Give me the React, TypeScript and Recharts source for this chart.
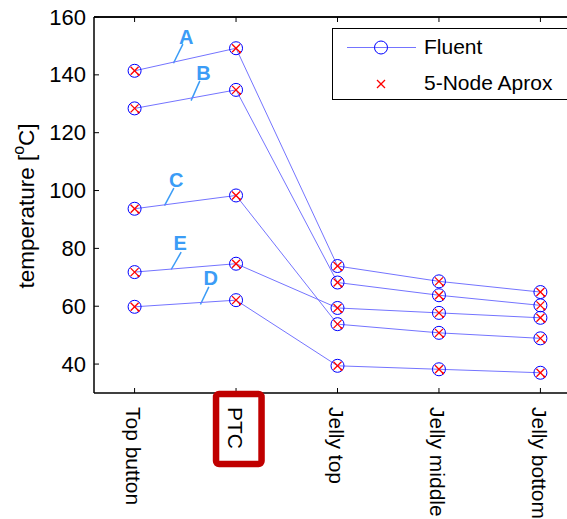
import React from 'react';
import {
  LineChart,
  Line,
  XAxis,
  YAxis,
  ReferenceLine,
  ReferenceDot,
} from 'recharts';

const categories = ['Top button', 'PTC', 'Jelly top', 'Jelly middle', 'Jelly bottom'];
const yTicks = [40, 60, 80, 100, 120, 140, 160];

// Fluent results, one array per curve (A..E)
const fluentA = [141.4, 149.2, 73.9, 68.6, 64.9];
const fluentB = [128.4, 134.8, 68.2, 63.8, 60.3];
const fluentC = [93.7, 98.3, 53.8, 50.8, 48.9];
const fluentD = [59.8, 62.1, 39.4, 38.2, 37.0];
const fluentE = [71.8, 74.7, 59.4, 57.7, 56.0];

// 5-node approximation (sits on top of the Fluent points)
const nodeA = [141.4, 149.2, 73.9, 68.6, 64.9];
const nodeB = [128.4, 134.8, 68.2, 63.8, 60.3];
const nodeC = [93.7, 98.3, 53.8, 50.8, 48.9];
const nodeD = [59.8, 62.1, 39.4, 38.2, 37.0];
const nodeE = [71.8, 74.7, 59.4, 57.7, 56.0];

// curve labels: letter position and leader line, in data units
const curveLabels = [
  { name: 'A', x: 1.51, y: 153.1, x1: 1.476, y1: 150.6, x2: 1.383, y2: 144.0 },
  { name: 'B', x: 1.68, y: 140.8, x1: 1.643, y1: 137.9, x2: 1.557, y2: 131.1 },
  { name: 'C', x: 1.41, y: 103.7, x1: 1.387, y1: 100.8, x2: 1.295, y2: 94.8 },
  { name: 'E', x: 1.45, y: 81.8, x1: 1.459, y1: 78.7, x2: 1.361, y2: 72.7 },
  { name: 'D', x: 1.75, y: 69.9, x1: 1.732, y1: 66.7, x2: 1.649, y2: 60.6 },
];

const data = categories.map((c, i) => ({
  x: i + 1,
  fA: fluentA[i],
  fB: fluentB[i],
  fC: fluentC[i],
  fD: fluentD[i],
  fE: fluentE[i],
  nA: nodeA[i],
  nB: nodeB[i],
  nC: nodeC[i],
  nD: nodeD[i],
  nE: nodeE[i],
}));

const FONT = '"Liberation Sans", Arial, Helvetica, sans-serif';
const LINE_COLOR = '#7474ff';
const LABEL_COLOR = '#3b9cf6';

const CircleDot = (props: any) => {
  const { cx, cy } = props;
  if (cx == null || cy == null) return null;
  return <circle cx={cx} cy={cy} r={6.5} fill="none" stroke="#0000ff" strokeWidth={1} />;
};

const CrossDot = (props: any) => {
  const { cx, cy } = props;
  if (cx == null || cy == null) return null;
  const s = 4;
  return (
    <g stroke="#ff0000" strokeWidth={1.3}>
      <line x1={cx - s} y1={cy - s} x2={cx + s} y2={cy + s} />
      <line x1={cx - s} y1={cy + s} x2={cx + s} y2={cy - s} />
      <rect x={cx + 3} y={cy + 3} width={2} height={2} fill="#ff0000" strokeWidth={0} />
    </g>
  );
};

const YTick = (props: any) => {
  const { x, y, payload } = props;
  const ax = x + 8;
  return (
    <g>
      <line x1={ax} y1={y} x2={ax + 5} y2={y} stroke="#000" strokeWidth={1} />
      <text x={x} y={y} textAnchor="end" dominantBaseline="central" fontSize={22} fontFamily={FONT} fill="#000">
        {payload.value}
      </text>
    </g>
  );
};

const XTick = (props: any) => {
  const { x, y, payload } = props;
  const label = categories[payload.value - 1];
  const tx = x - 1;
  const ty = y + 14;
  return (
    <g>
      <line x1={x} y1={y} x2={x} y2={y - 5} stroke="#000" strokeWidth={1} />
      <text
        x={tx}
        y={ty}
        transform={`rotate(90, ${tx}, ${ty})`}
        textAnchor="start"
        dominantBaseline="central"
        fontSize={21}
        fontFamily={FONT}
        fill="#000"
      >
        {label}
      </text>
      {label === 'PTC' && (
        <rect x={x - 20} y={y + 1} width={45.5} height={70} rx={3} fill="none" stroke="#c00000" strokeWidth={6.5} />
      )}
    </g>
  );
};

const TopTick = (props: any) => {
  const { x, y } = props;
  return <line x1={x} y1={y} x2={x} y2={y + 5} stroke="#000" strokeWidth={1} />;
};

const LegendBox = () => (
  <div
    style={{
      position: 'absolute',
      left: 332,
      top: 28,
      width: 240,
      height: 70,
      border: '1.5px solid #000',
      background: '#fff',
      fontFamily: FONT,
      fontSize: 21,
    }}
  >
    <svg width={90} height={70} style={{ position: 'absolute', left: 0, top: 0 }}>
      <line x1={14} y1={18.5} x2={83} y2={18.5} stroke={LINE_COLOR} strokeWidth={1} />
      <circle cx={48} cy={18.5} r={6.5} fill="none" stroke="#0000ff" strokeWidth={1} />
      <g stroke="#ff0000" strokeWidth={1.3}>
        <line x1={44} y1={51} x2={52} y2={59} />
        <line x1={44} y1={59} x2={52} y2={51} />
      </g>
    </svg>
    <div style={{ position: 'absolute', left: 91, top: 6, lineHeight: '24px' }}>Fluent</div>
    <div style={{ position: 'absolute', left: 91, top: 42, lineHeight: '24px' }}>5-Node Aprox</div>
  </div>
);

const CurveLetter = (name: string) => (props: any) => {
  const { cx, cy } = props;
  return (
    <text
      x={cx}
      y={cy}
      textAnchor="middle"
      dominantBaseline="central"
      fontSize={20}
      fontWeight="bold"
      fontFamily={FONT}
      fill={LABEL_COLOR}
    >
      {name}
    </text>
  );
};

export default function App() {
  return (
    <div
      style={{
        position: 'fixed',
        left: 0,
        top: 0,
        width: 567,
        height: 519,
        overflow: 'hidden',
        background: '#fff',
      }}
    >
      <LineChart width={600} height={519} data={data} margin={{ top: 16, right: 19, bottom: 0, left: 0 }}>
        <XAxis
          dataKey="x"
          type="number"
          domain={[0.6, 5.4]}
          ticks={[1, 2, 3, 4, 5]}
          height={126}
          tickSize={0}
          tickMargin={0}
          tick={<XTick />}
          axisLine={{ stroke: '#000', strokeWidth: 1.5 }}
          allowDataOverflow
        />
        <XAxis
          xAxisId="top"
          orientation="top"
          dataKey="x"
          type="number"
          domain={[0.6, 5.4]}
          ticks={[1, 2, 3, 4, 5]}
          height={1}
          tickSize={0}
          tickMargin={0}
          tick={<TopTick />}
          axisLine={{ stroke: '#000', strokeWidth: 1.5 }}
          allowDataOverflow
        />
        <YAxis
          type="number"
          domain={[30, 160]}
          ticks={yTicks}
          width={94}
          tickSize={0}
          tickMargin={8}
          tick={<YTick />}
          axisLine={{ stroke: '#000', strokeWidth: 1.5 }}
          allowDataOverflow
        />
        <ReferenceLine y={160} stroke="#000" strokeWidth={1.5} />
        <text
          x={34}
          y={206}
          transform="rotate(-90, 34, 206)"
          textAnchor="middle"
          fontSize={22.5}
          fontFamily={FONT}
          fill="#000"
        >
          temperature [<tspan fontSize={16} dy={-10}>o</tspan>
          <tspan dy={10}>C]</tspan>
        </text>
        {curveLabels.map((c) => (
          <ReferenceLine
            key={'l' + c.name}
            segment={[
              { x: c.x1, y: c.y1 },
              { x: c.x2, y: c.y2 },
            ]}
            stroke={LABEL_COLOR}
            strokeWidth={1.5}
          />
        ))}
        {curveLabels.map((c) => (
          <ReferenceDot key={'t' + c.name} x={c.x} y={c.y} r={0} shape={CurveLetter(c.name)} />
        ))}
        {['fA', 'fB', 'fC', 'fD', 'fE'].map((k) => (
          <Line
            key={k}
            dataKey={k}
            stroke={LINE_COLOR}
            strokeWidth={1}
            dot={<CircleDot />}
            activeDot={false}
            isAnimationActive={false}
            legendType="none"
          />
        ))}
        {['nA', 'nB', 'nC', 'nD', 'nE'].map((k) => (
          <Line
            key={k}
            dataKey={k}
            stroke="none"
            dot={<CrossDot />}
            activeDot={false}
            isAnimationActive={false}
            legendType="none"
          />
        ))}
      </LineChart>
      <LegendBox />
    </div>
  );
}
